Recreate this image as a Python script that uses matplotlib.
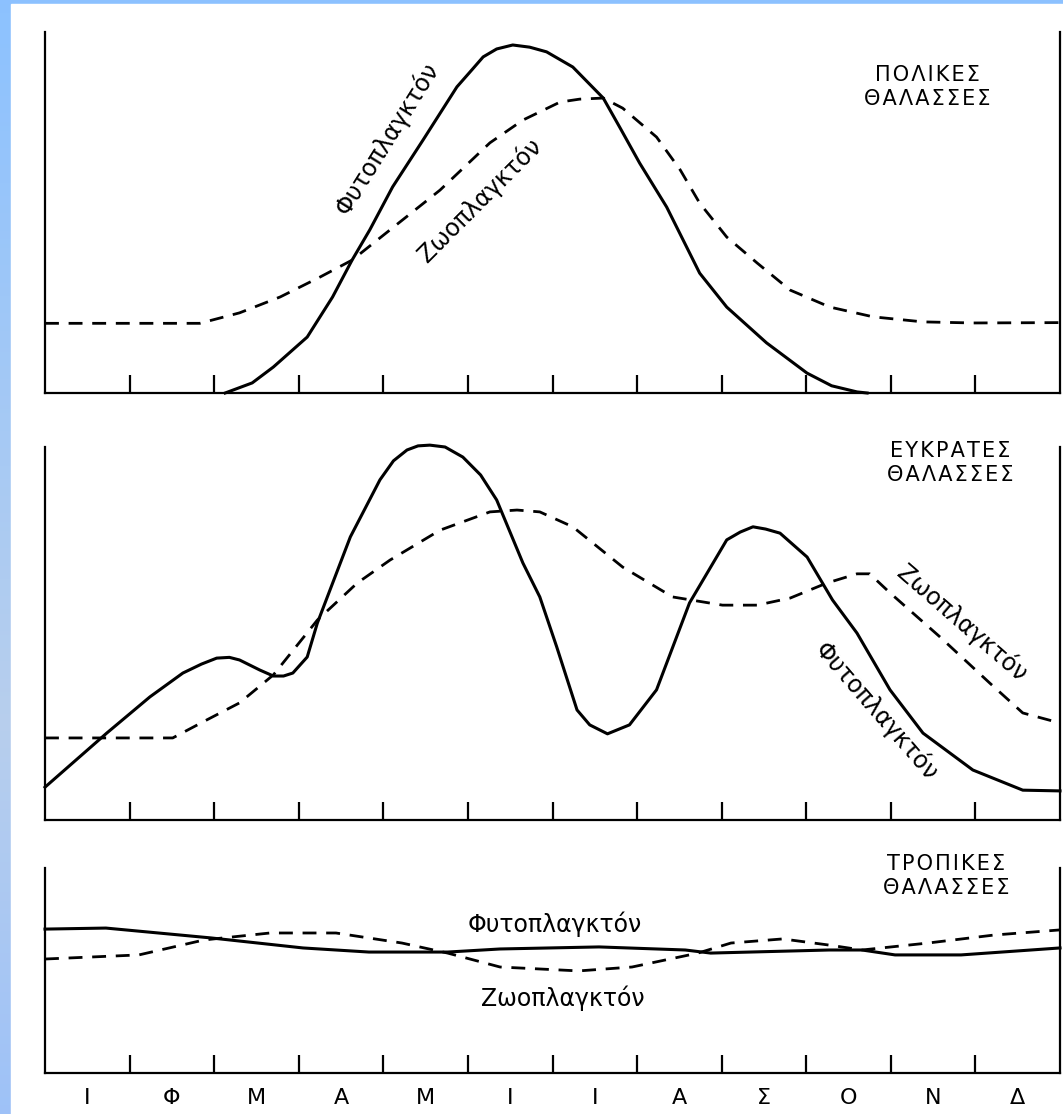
import numpy as np
import matplotlib
matplotlib.use('Agg')
import matplotlib.pyplot as plt
from matplotlib.patches import Rectangle

# month initials (Greek)
months = ['Ι', 'Φ', 'Μ', 'Α', 'Μ', 'Ι', 'Ι', 'Α', 'Σ', 'Ο', 'Ν', 'Δ']

# polar seas (x in months 0-12, y relative abundance 0-100)
polar_phyto_x = [2.13, 2.45, 2.70, 3.10, 3.40, 3.63, 3.84, 4.11, 4.47, 4.87, 5.05, 5.18,
                 5.34, 5.53, 5.73, 5.93, 6.24, 6.60, 6.80, 7.03, 7.35, 7.74, 8.06, 8.53,
                 9.01, 9.30, 9.60, 9.72]
polar_phyto_y = [0, 2.8, 7.2, 15.5, 26.6, 36.8, 45.2, 57.1, 70.1, 84.8, 89.6, 93.1,
                 95.3, 96.4, 95.8, 94.5, 90.3, 81.7, 73.4, 63.7, 51.5, 33.2, 23.8, 13.9,
                 5.5, 2.0, 0.3, 0]
polar_zoo_x = [0, 1.83, 2.30, 2.78, 3.25, 3.63, 4.08, 4.67, 5.26, 5.65, 6.09, 6.32,
               6.60, 6.83, 7.23, 7.51, 7.74, 8.06, 8.42, 8.81, 9.28, 9.79, 10.38, 10.97, 12.0]
polar_zoo_y = [19.3, 19.3, 22.2, 26.6, 32.1, 36.8, 45.2, 56.2, 69.3, 75.6, 80.6, 81.4,
               81.7, 78.9, 70.9, 61.8, 52.6, 43.2, 36.0, 28.5, 23.8, 21.1, 19.7, 19.4, 19.5]

# temperate seas
temp_phyto_x = [0, 0.73, 1.24, 1.63, 1.85, 2.03, 2.18, 2.30, 2.54, 2.70, 2.82, 2.93,
                3.10, 3.22, 3.37, 3.61, 3.96, 4.12, 4.28, 4.41, 4.55, 4.73, 4.94, 5.15,
                5.34, 5.65, 5.85, 6.05, 6.29, 6.44, 6.65, 6.91, 7.23, 7.62, 8.06, 8.22,
                8.37, 8.52, 8.69, 9.01, 9.31, 9.60, 9.99, 10.38, 10.97, 11.56, 12.0]
temp_phyto_y = [8.8, 23.3, 33.0, 39.4, 41.8, 43.4, 43.6, 42.9, 40.2, 38.6, 38.6, 39.4,
                43.7, 52.8, 61.7, 75.9, 91.2, 96.3, 99.2, 100.3, 100.5, 100.0, 97.3, 92.5,
                85.8, 68.9, 59.8, 46.4, 29.5, 25.5, 23.1, 25.5, 34.9, 58.2, 75.1, 77.2,
                78.6, 78.0, 76.9, 70.5, 59.0, 50.1, 34.9, 23.3, 13.4, 8.0, 7.8]
temp_zoo_x = [0, 1.51, 1.91, 2.30, 2.70, 3.22, 3.69, 4.08, 4.67, 5.26, 5.58, 5.85,
              6.24, 6.83, 7.42, 8.01, 8.42, 8.81, 9.24, 9.60, 9.75, 9.99, 10.58, 11.17,
              11.56, 12.0]
temp_zoo_y = [22.0, 22.0, 26.8, 31.4, 38.9, 53.6, 63.5, 69.7, 77.7, 82.6, 83.1, 82.6,
              78.6, 67.8, 59.8, 57.6, 57.6, 59.5, 63.5, 66.0, 66.0, 60.9, 49.1, 36.7,
              28.7, 26.0]

# tropical seas
trop_phyto_x = [0, 0.72, 1.96, 3.05, 3.83, 4.76, 5.38, 6.55, 7.57, 7.87, 9.27, 9.66,
                10.05, 10.83, 12.0]
trop_phyto_y = [70.2, 70.7, 65.9, 61.0, 59.0, 59.0, 60.5, 61.5, 60.0, 58.5, 60.0, 60.0,
                57.6, 57.6, 61.0]
trop_zoo_x = [0, 1.11, 1.88, 2.66, 3.44, 4.22, 4.76, 5.38, 6.31, 6.94, 7.72, 8.11,
              8.72, 9.27, 9.66, 10.44, 11.22, 12.0]
trop_zoo_y = [55.6, 57.6, 64.9, 68.3, 68.3, 63.4, 58.5, 51.7, 49.8, 51.7, 58.5, 63.4,
              65.4, 62.4, 60.0, 63.4, 67.3, 69.8]

W, H = 1063, 1114
fig = plt.figure(figsize=(W / 100, H / 100), dpi=100)

# blue slide background with white page
bg = fig.add_axes([0, 0, 1, 1])
bg.axis('off')
t = np.linspace(0, 1, 256)
c_top = np.array([0.55, 0.76, 1.0])
c_mid = np.array([0.72, 0.81, 0.93])
c_bot = np.array([0.62, 0.76, 0.97])
cols = np.array([np.interp(t, [0, 0.65, 1], [c_top[i], c_mid[i], c_bot[i]]) for i in range(3)]).T
bg.imshow(cols[:, None, :], aspect='auto', extent=[0, 1, 0, 1])
bg.set_xlim(0, 1)
bg.set_ylim(0, 1)
bg.add_patch(Rectangle((11 / W, 0), 1, 1 - 4 / H, color='white', transform=bg.transAxes))


def panel(top, bottom):
    ax = fig.add_axes([45 / W, 1 - bottom / H, 1015 / W, (bottom - top) / H])
    ax.set_xlim(0, 12)
    ax.set_ylim(0, 100)
    ax.spines['top'].set_visible(False)
    for s in ['left', 'right', 'bottom']:
        ax.spines[s].set_linewidth(1.6)
    ax.set_xticks(range(1, 12))
    ax.tick_params(axis='x', direction='in', length=13, width=1.6, labelbottom=False)
    ax.set_yticks([])
    ax.patch.set_alpha(0)
    return ax


def curves(ax, px, py, zx, zy):
    ax.plot(px, py, color='black', lw=2.2, solid_joinstyle='round', clip_on=False)
    ax.plot(zx, zy, color='black', lw=2.0, ls=(0, (5, 3.5)), clip_on=False)


def spaced(s):
    return '\u200a'.join(s)


lab = dict(fontsize=17, ha='center', va='center', rotation_mode='anchor')
head = dict(fontsize=15, ha='center', va='center', linespacing=1.25)

ax1 = panel(32, 393)
curves(ax1, polar_phyto_x, polar_phyto_y, polar_zoo_x, polar_zoo_y)
ax1.text(10.43, 84.8, spaced('ΠΟΛΙΚΕΣ') + '\n' + spaced('ΘΑΛΑΣΣΕΣ'), **head)
ax1.text(4.04, 70.6, 'Φυτοπλαγκτόν', rotation=58, **lab)
ax1.text(5.14, 53.5, 'Ζωοπλαγκτόν', rotation=45, **lab)

ax2 = panel(447, 820)
curves(ax2, temp_phyto_x, temp_phyto_y, temp_zoo_x, temp_zoo_y)
ax2.text(10.70, 95.7, spaced('ΕΥΚΡΑΤΕΣ') + '\n' + spaced('ΘΑΛΑΣΣΕΣ'), **head)
ax2.text(10.84, 52.8, 'Ζωοπλαγκτόν', rotation=-41, **lab)
ax2.text(9.83, 29.0, 'Φυτοπλαγκτόν', rotation=-49, **lab)

ax3 = panel(868, 1073)
curves(ax3, trop_phyto_x, trop_phyto_y, trop_zoo_x, trop_zoo_y)
ax3.text(10.65, 96, spaced('ΤΡΟΠΙΚΕΣ') + '\n' + spaced('ΘΑΛΑΣΣΕΣ'), **head)
ax3.text(6.03, 72.7, 'Φυτοπλαγκτόν', **lab)
ax3.text(6.12, 36.6, 'Ζωοπλαγκτόν', **lab)
ax3.set_xticks(np.arange(0.5, 12, 1), minor=True)
ax3.set_xticklabels(months, minor=True)
ax3.tick_params(axis='x', which='minor', length=0, labelbottom=True, labelsize=16, pad=11)

fig.savefig('out.png', dpi=100)
